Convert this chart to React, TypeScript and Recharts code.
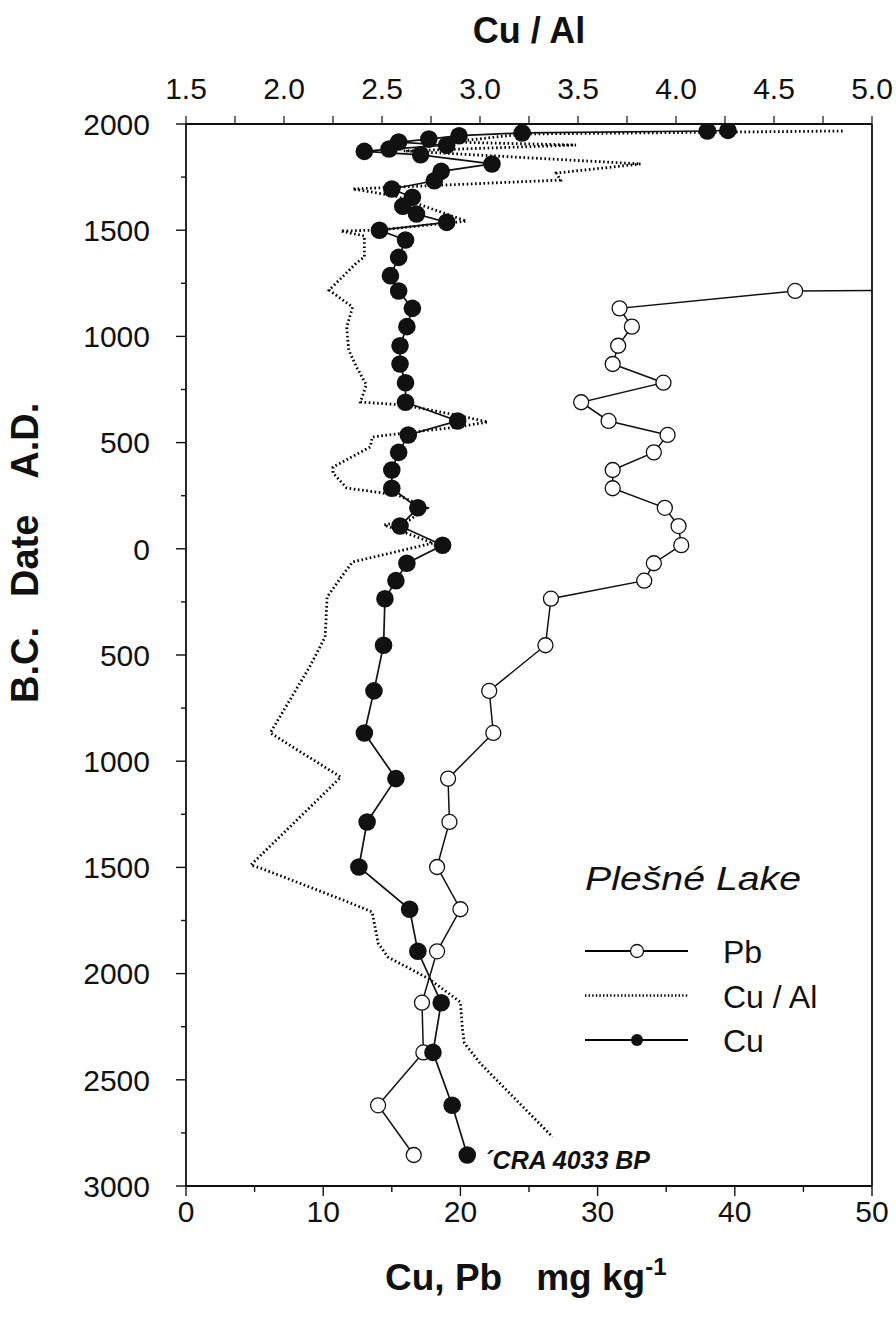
import React from 'react';
import { ScatterChart, Scatter, XAxis, YAxis, ReferenceLine, ReferenceDot } from 'recharts';

const FONT = '"Liberation Sans", Arial, Helvetica, sans-serif';
const INK = '#111';

// Signed calendar year (A.D. positive, B.C. negative) and Cu (mg/kg)
const cuYears = [1970, 1967, 1958, 1945, 1929, 1915, 1900, 1882, 1871, 1855, 1812, 1777, 1733, 1694, 1655, 1613, 1576, 1537, 1500, 1454, 1372, 1286, 1214, 1132, 1046, 956, 870, 782, 690, 602, 536, 454, 371, 285, 193, 107, 17, -68, -150, -235, -454, -669, -867, -1082, -1286, -1498, -1697, -1895, -2137, -2371, -2620, -2854];
const cuValues = [39.5, 38.0, 24.5, 19.9, 17.7, 15.5, 19.0, 14.8, 13.0, 17.1, 22.3, 18.6, 18.1, 15.0, 16.5, 15.8, 16.8, 19.0, 14.1, 16.0, 15.5, 14.9, 15.5, 16.5, 16.1, 15.6, 15.6, 16.0, 16.0, 19.8, 16.2, 15.5, 15.0, 15.0, 16.9, 15.6, 18.7, 16.1, 15.3, 14.5, 14.4, 13.7, 13.0, 15.3, 13.2, 12.6, 16.3, 16.9, 18.6, 18.0, 19.4, 20.5];

// Pb (mg/kg)
const pbYears = [1222, 1214, 1132, 1046, 956, 870, 782, 690, 602, 536, 454, 371, 285, 193, 107, 17, -68, -150, -235, -454, -669, -867, -1082, -1286, -1498, -1697, -1895, -2137, -2371, -2620, -2854];
const pbValues = [65, 44.4, 31.6, 32.5, 31.5, 31.1, 34.8, 28.8, 30.8, 35.1, 34.1, 31.1, 31.1, 34.9, 35.9, 36.1, 34.1, 33.4, 26.6, 26.2, 22.1, 22.4, 19.1, 19.2, 18.3, 20.0, 18.3, 17.2, 17.3, 14.0, 16.6];

// Cu / Al ratio
const cuAlYears = [1967, 1953, 1915, 1901, 1873, 1812, 1769, 1736, 1694, 1661, 1543, 1501, 1496, 1473, 1374, 1346, 1218, 1138, 1044, 936, 856, 772, 691, 677, 630, 597, 573, 545, 526, 479, 385, 357, 286, 253, 192, 136, 112, 79, 27, -62, -123, -227, -415, -557, -867, -1075, -1489, -1503, -1653, -1710, -1856, -1922, -2025, -2134, -2256, -2327, -2421, -2769];
const cuAlValues = [4.85, 3.22, 2.85, 3.49, 2.61, 3.82, 3.39, 3.41, 2.35, 2.57, 2.93, 2.49, 2.29, 2.41, 2.41, 2.37, 2.23, 2.35, 2.32, 2.33, 2.37, 2.42, 2.39, 2.61, 2.88, 3.04, 2.88, 2.61, 2.45, 2.44, 2.25, 2.25, 2.32, 2.58, 2.73, 2.64, 2.51, 2.61, 2.76, 2.35, 2.30, 2.22, 2.21, 2.13, 1.93, 2.29, 1.83, 1.88, 2.30, 2.45, 2.48, 2.53, 2.74, 2.90, 2.91, 2.92, 3.00, 3.37];

const dateTicks = [-3000, -2750, -2500, -2250, -2000, -1750, -1500, -1250, -1000, -750, -500, -250, 0, 250, 500, 750, 1000, 1250, 1500, 1750, 2000];
const concTicks = [0, 5, 10, 15, 20, 25, 30, 35, 40, 45, 50];
const ratioTicks = [1.5, 1.75, 2.0, 2.25, 2.5, 2.75, 3.0, 3.25, 3.5, 3.75, 4.0, 4.25, 4.5, 4.75, 5.0];

const toRows = (ys: number[], vs: number[]) => ys.map((year, i) => ({ year, v: vs[i] }));
const cuData = toRows(cuYears, cuValues);
const pbData = toRows(pbYears, pbValues);
const cuAlData = toRows(cuAlYears, cuAlValues);

const TICK_FS = 30;
const DOTS = '1.6 2.6';

const LeftTick = (props: any) => {
  const { x, y, payload } = props;
  const v = payload.value;
  const major = v % 500 === 0;
  return (
    <g>
      <line x1={x - (major ? 10 : 5)} x2={x} y1={y} y2={y} stroke={INK} strokeWidth={1.4} />
      {major && (
        <text x={x - 36} y={y} dy="0.36em" textAnchor="end" fontSize={TICK_FS} fontFamily={FONT} fill={INK}>
          {Math.abs(v)}
        </text>
      )}
    </g>
  );
};

const BottomTick = (props: any) => {
  const { x, y, payload } = props;
  const v = payload.value;
  const major = v % 10 === 0;
  return (
    <g>
      <line x1={x} x2={x} y1={y} y2={y + (major ? 10 : 6)} stroke={INK} strokeWidth={1.4} />
      {major && (
        <text x={x} y={y + 36} textAnchor="middle" fontSize={TICK_FS} fontFamily={FONT} fill={INK}>
          {v}
        </text>
      )}
    </g>
  );
};

const TopTick = (props: any) => {
  const { x, y, payload } = props;
  const v = payload.value;
  const major = Math.abs(v * 2 - Math.round(v * 2)) < 1e-6;
  return (
    <g>
      <line x1={x} x2={x} y1={y} y2={y - 8} stroke={INK} strokeWidth={1.2} />
      {major && (
        <text x={x} y={y - 25} textAnchor="middle" fontSize={TICK_FS} fontFamily={FONT} fill={INK}>
          {v.toFixed(1)}
        </text>
      )}
    </g>
  );
};

const renderNone = () => <g />;
const renderOpen = (p: any) => <circle cx={p.cx} cy={p.cy} r={7.5} fill="#fff" stroke={INK} strokeWidth={1.3} />;
const renderFilled = (p: any) => <circle cx={p.cx} cy={p.cy} r={8.8} fill={INK} stroke="none" />;

const craLabel = (props: any) => {
  const vb = props.viewBox || {};
  return (
    <text x={(vb.x || 0) + 17} y={(vb.y || 0) + 14} fontSize={25} fontWeight="bold" fontStyle="italic" fontFamily={FONT} fill={INK}>
      ´CRA 4033 BP
    </text>
  );
};

const legendItems = [
  { name: 'Pb', kind: 'open' },
  { name: 'Cu / Al', kind: 'dotted' },
  { name: 'Cu', kind: 'filled' },
];

export default function App() {
  return (
    <div style={{ position: 'absolute', left: 0, top: 0, width: 896, height: 1324, background: '#fff' }}>
      <ScatterChart width={896} height={1324} margin={{ top: 0, right: 24, bottom: 0, left: 0 }}>
        <XAxis
          xAxisId="top"
          orientation="top"
          type="number"
          dataKey="v"
          domain={[1.5, 5]}
          ticks={ratioTicks}
          interval={0}
          height={124}
          tickSize={0}
          tickMargin={0}
          tickLine={false}
          tick={<TopTick />}
          axisLine={{ stroke: INK, strokeWidth: 1.8 }}
          allowDataOverflow
        />
        <XAxis
          xAxisId="bottom"
          orientation="bottom"
          type="number"
          dataKey="v"
          domain={[0, 50]}
          ticks={concTicks}
          interval={0}
          height={138}
          tickSize={0}
          tickMargin={0}
          tickLine={false}
          tick={<BottomTick />}
          axisLine={{ stroke: INK, strokeWidth: 1.8 }}
          allowDataOverflow
        />
        <YAxis
          type="number"
          dataKey="year"
          domain={[-3000, 2000]}
          ticks={dateTicks}
          interval={0}
          width={186}
          tickSize={0}
          tickMargin={0}
          tickLine={false}
          tick={<LeftTick />}
          axisLine={{ stroke: INK, strokeWidth: 1.8 }}
          allowDataOverflow
        />
        <ReferenceLine xAxisId="bottom" x={50} stroke={INK} strokeWidth={1.8} />
        <Scatter
          name="Cu / Al"
          xAxisId="top"
          data={cuAlData}
          shape={renderNone}
          line={{ stroke: '#000', strokeWidth: 2.8, strokeDasharray: DOTS }}
          isAnimationActive={false}
        />
        <Scatter
          name="Pb"
          xAxisId="bottom"
          data={pbData}
          shape={renderOpen}
          line={{ stroke: INK, strokeWidth: 1.5 }}
          isAnimationActive={false}
        />
        <Scatter
          name="Cu"
          xAxisId="bottom"
          data={cuData}
          shape={renderFilled}
          line={{ stroke: INK, strokeWidth: 1.7 }}
          isAnimationActive={false}
        />
        <ReferenceDot xAxisId="bottom" x={cuValues[cuValues.length - 1]} y={cuYears[cuYears.length - 1]} r={0} fill="none" stroke="none" label={{ content: craLabel }} />
      </ScatterChart>

      <svg width={896} height={1324} style={{ position: 'absolute', left: 0, top: 0, pointerEvents: 'none' }}>
        <text x={529} y={43} textAnchor="middle" fontSize={36} fontWeight="bold" fontFamily={FONT} fill={INK}>
          Cu / Al
        </text>
        <text transform="translate(38,703) rotate(-90)" fontSize={38} fontWeight="bold" fontFamily={FONT} fill={INK}>
          <tspan>B.C.</tspan>
          <tspan dx={30}>Date</tspan>
          <tspan dx={36}>A.D.</tspan>
        </text>
        <text x={385} y={1290} fontSize={37} fontWeight="bold" fontFamily={FONT} fill={INK}>
          <tspan>Cu, Pb</tspan>
          <tspan dx={34}>mg kg</tspan>
          <tspan dy={-15} fontSize={24}>-1</tspan>
        </text>

        <text x={585} y={890} fontSize={33} fontStyle="italic" fontFamily={FONT} fill={INK} textLength={216} lengthAdjust="spacingAndGlyphs">
          Plešné Lake
        </text>
        {legendItems.map((it, i) => {
          const y = 951 + i * 44.5;
          return (
            <g key={it.name}>
              <line
                x1={585}
                x2={688}
                y1={y}
                y2={y}
                stroke="#000"
                strokeWidth={it.kind === 'dotted' ? 2.6 : 2.2}
                strokeDasharray={it.kind === 'dotted' ? '1.4 2.2' : undefined}
              />
              {it.kind === 'open' && <circle cx={637} cy={y} r={6.5} fill="#fff" stroke={INK} strokeWidth={1.3} />}
              {it.kind === 'filled' && <circle cx={637} cy={y} r={6} fill={INK} />}
              <text x={723} y={y + 12} fontSize={32} fontFamily={FONT} fill={INK}>
                {it.name}
              </text>
            </g>
          );
        })}
      </svg>
    </div>
  );
}
